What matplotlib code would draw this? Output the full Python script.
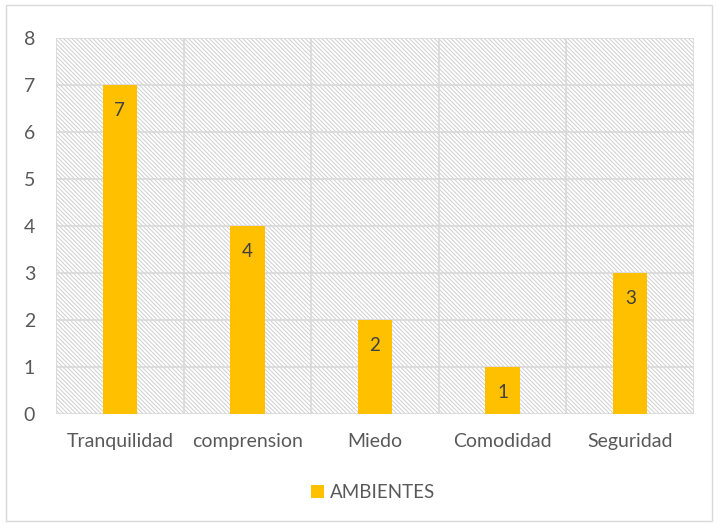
import numpy as np
import matplotlib
matplotlib.use("Agg")
import matplotlib.pyplot as plt
from matplotlib.patches import Rectangle

categorias = ["Tranquilidad", "comprension", "Miedo", "Comodidad", "Seguridad"]
valores = [7, 4, 2, 1, 3]
serie = "AMBIENTES"

plt.rcParams["font.family"] = ["Lato", "DejaVu Sans"]
plt.rcParams["hatch.linewidth"] = 0.7
plt.rcParams["hatch.color"] = "#cfcfcf"

gold = "#FFC000"
grid_c = "#d9d9d9"
txt_c = "#595959"

fig = plt.figure(figsize=(7.18, 5.25), dpi=100)
ax = fig.add_axes([0.078, 0.2114, 0.8886, 0.7162])

x = np.arange(len(categorias))
ax.set_xlim(-0.5, len(categorias) - 0.5)
ax.set_ylim(0, 8)

# fondo rayado del area de trazado
ax.add_patch(Rectangle((0, 0), 1, 1, transform=ax.transAxes, facecolor="white",
                       edgecolor="#cfcfcf", hatch="\\" * 8, linewidth=0, zorder=0))

for yv in range(0, 9):
    ax.axhline(yv, color=grid_c, linewidth=1.2, zorder=1)
for xv in np.arange(-0.5, len(categorias), 1.0):
    ax.axvline(xv, color=grid_c, linewidth=1.2, zorder=1)

bars = ax.bar(x, valores, width=0.27, color=gold, zorder=2, label=serie)
for xi, v in zip(x, valores):
    ax.text(xi, v - 0.55, str(v), ha="center", va="center", fontsize=13.5,
            color="#404040", zorder=3)

for s in ax.spines.values():
    s.set_visible(False)
ax.set_xticks(x)
ax.set_xticklabels(categorias)
ax.set_yticks(range(0, 9))
ax.tick_params(length=0, labelsize=14, colors=txt_c)
ax.tick_params(axis="x", pad=14)
ax.tick_params(axis="y", pad=15)

fig.legend(handles=[bars], labels=[serie], loc="center", bbox_to_anchor=(0.52, 0.062),
           frameon=False, fontsize=13.5, handlelength=0.7, handleheight=0.7,
           handletextpad=0.3, labelcolor=txt_c)

# borde del grafico
fig.add_artist(Rectangle((0.009, 0.008), 0.982, 0.982, transform=fig.transFigure,
                         fill=False, edgecolor=grid_c, linewidth=1.0))

fig.savefig("out.png", dpi=100)
